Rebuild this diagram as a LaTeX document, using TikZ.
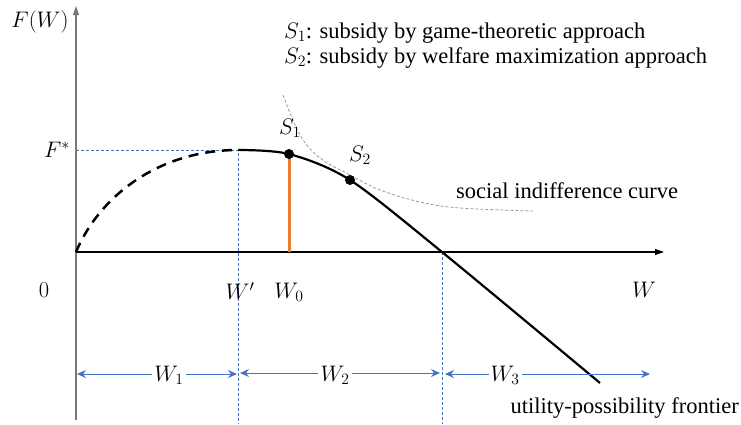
\RequirePackage{fix-cm}
\documentclass[tikz,border=0pt]{standalone}
\usepackage{fontspec}
\setmainfont{Liberation Serif}
\usetikzlibrary{arrows.meta}
\definecolor{myblue}{RGB}{68,114,196}
\definecolor{myorange}{RGB}{237,125,49}
\definecolor{axgray}{RGB}{120,120,120}
\begin{document}
\begin{tikzpicture}[x=1pt,y=-1pt,
  font=\fontsize{22.5}{27}\selectfont,
  lbl/.style={inner sep=1pt},
  guide/.style={myblue,line width=0.8pt,dash pattern=on 3pt off 2pt},
  span/.style={myblue,line width=1pt,{Stealth[length=9pt,width=8pt]}-{Stealth[length=9pt,width=8pt]}},
  spanlbl/.style={fill=white,inner sep=2pt},
  dot/.style={circle,fill=black,inner sep=0pt,minimum size=10pt}]
\useasboundingbox (0,0) rectangle (741,424);
% coordinates
\coordinate (O) at (76,252);
\coordinate (ytop) at (76,6);
\coordinate (ybot) at (76,420);
\coordinate (xend) at (664,252);
\coordinate (peak) at (238,150);
\coordinate (Fy) at (76,150);
\coordinate (pbot) at (238,424);
\coordinate (cross) at (442,252);
\coordinate (cbot) at (442,424);
\coordinate (s1) at (289,154);
\coordinate (s1b) at (289,252);
\coordinate (s2) at (350,180);
\coordinate (fend) at (600,383);
% guides
\draw[guide] (Fy) -- (peak) -- (pbot);
\draw[guide] (cross) -- (cbot);
% axes
\draw[axgray,line width=1.3pt,-{Triangle[length=9pt,width=6pt]}] (ybot) -- (ytop);
\draw[black,line width=1.3pt,-{Triangle[length=9pt,width=6pt]}] (O) -- (xend);
% indifference curve
\draw[gray!80,line width=0.8pt,dash pattern=on 3pt off 2pt] plot[smooth,tension=0.6] coordinates {(283,95) (300,135) (320,158) (350,175) (380,190) (420,202) (460,208) (533,211)};
% orange line
\draw[myorange,line width=3pt] (s1) -- (s1b);
% frontier
\draw[line width=2.5pt,dash pattern=on 10pt off 7pt] (O) .. controls (100,195) and (160,150) .. (peak);
\draw[line width=2.2pt] plot[smooth,tension=0.5] coordinates {(238,150) (289,154) (350,180) (442,252) (600,383)};
\node[dot] (S1) at (s1) {};
\node[dot] (S2) at (s2) {};
% labels
\node[lbl] (FW) at (40,22) {$F(W)$};
\node[lbl] (Fs) at (57,150) {$F^*$};
\node[lbl] (zero) at (44,290) {$0$};
\node[lbl] (Wl) at (644,290) {$W$};
\node[lbl] (Wp) at (240,291) {$W'$};
\node[lbl] (W0) at (289,292) {$W_0$};
\node[lbl] (S1l) at (290,128) {$S_1$};
\node[lbl] (S2l) at (360,155) {$S_2$};
\node[lbl,anchor=base west] (t1) at (283,38) {$S_1$: subsidy by game-theoretic approach};
\node[lbl,anchor=base west] (t2) at (283,63) {$S_2$: subsidy by welfare maximization approach};
\node[lbl,anchor=base west] (sic) at (455,198) {social indifference curve};
\node[lbl,anchor=base east] (upf) at (740,413) {utility-possibility frontier};
% span arrows
\coordinate (a1) at (77,374);
\coordinate (a2) at (237,374);
\coordinate (a3) at (240,373);
\coordinate (a4) at (440,373);
\coordinate (a5) at (445,374);
\coordinate (a6) at (650,374);
\draw[span] (a1) -- (a2);
\draw[span] (a3) -- (a4);
\draw[span] (a5) -- (a6);
\node[spanlbl] (W1) at (169,375) {$W_1$};
\node[spanlbl] (W2) at (335,375) {$W_2$};
\node[spanlbl] (W3) at (505,375) {$W_3$};
\end{tikzpicture}
\end{document}
